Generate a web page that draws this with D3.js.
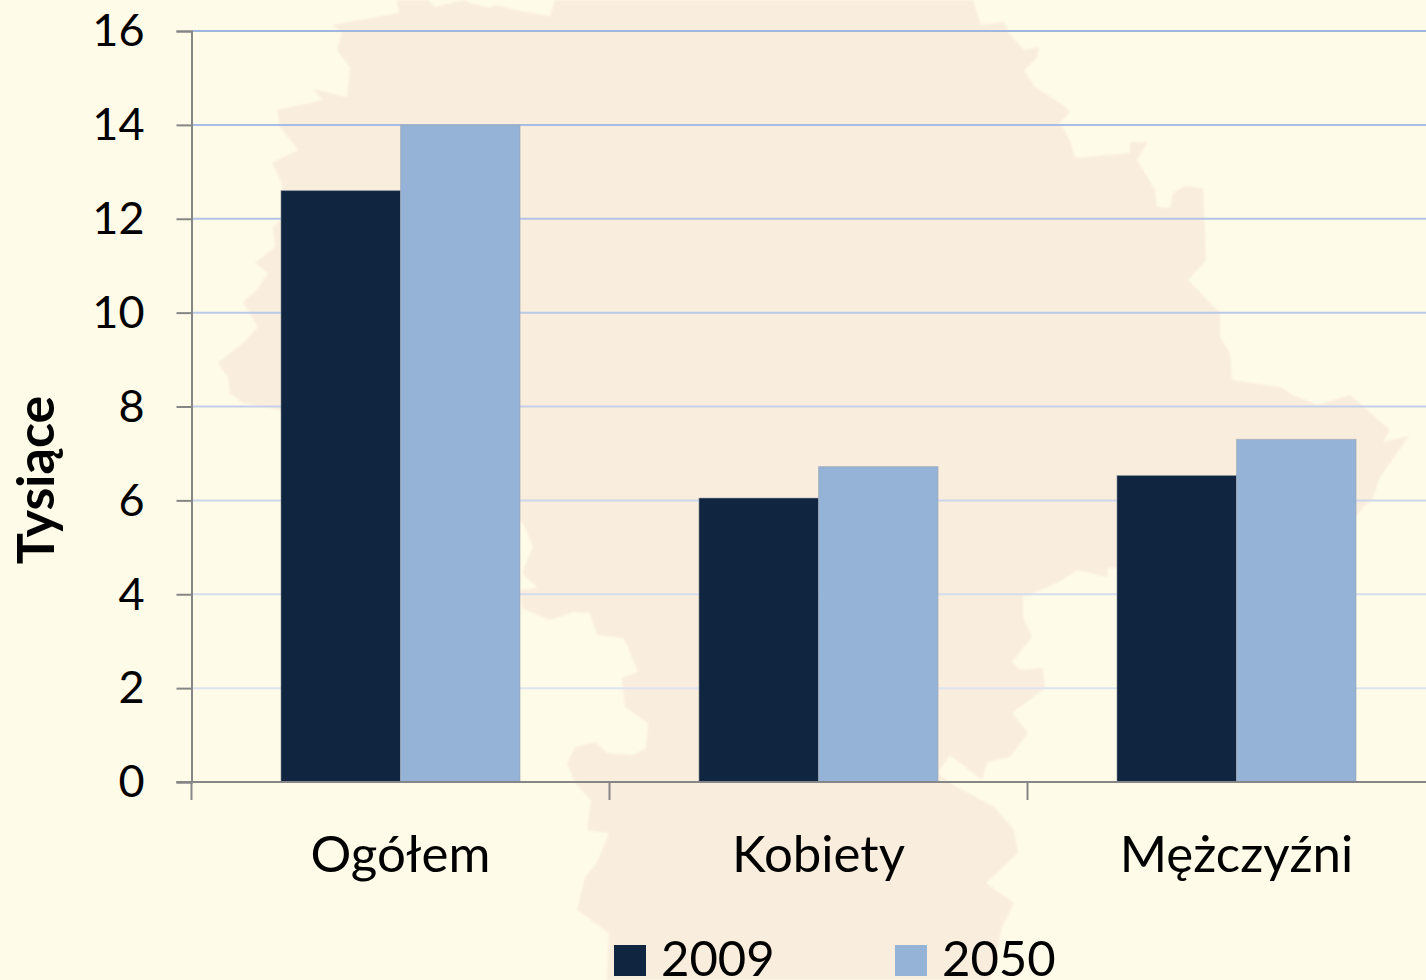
<!DOCTYPE html>
<html>
<head>
<meta charset="UTF-8">
<script src="https://d3js.org/d3.v7.min.js"></script>
<style>
  html, body { margin: 0; padding: 0; overflow: hidden; background: #fffbe9; }
  svg { display: block; }
  text { font-family: Lato, "Open Sans", sans-serif; fill: #000; }
</style>
</head>
<body>
<svg></svg>
<script>
var categories = ["Ogółem", "Kobiety", "Mężczyźni"];
var years = ["2009", "2050"];
var values2009 = [12.6, 6.05, 6.53];
var values2050 = [14.0, 6.72, 7.3];
var yTicks = [0, 2, 4, 6, 8, 10, 12, 14, 16];
var yTitle = "Tysiące";

// backdrop silhouette, traced in page pixels
var mapOutline = [[397,0],[428,0],[435,7],[465,0],[470,3],[490,8],[495,5],[525,12],[550,16],[555,0],
  [973,0],[981,25],[1004,22],[1009,33],[1024,50],[1039,47],[1037,58],[1024,70],[1035,87],[1063,105],
  [1070,112],[1060,123],[1070,140],[1075,158],[1130,153],[1130,142],[1148,142],[1137,160],[1155,190],
  [1157,207],[1170,208],[1173,193],[1185,186],[1203,188],[1206,260],[1188,280],[1220,313],[1220,337],
  [1230,353],[1232,380],[1280,387],[1293,395],[1317,405],[1350,395],[1390,430],[1383,442],[1409,436],
  [1380,477],[1372,500],[1363,507],[1340,540],[1117,568],[1107,568],[1108,577],[1077,570],[1057,583],
  [1023,597],[1023,617],[1032,637],[1012,662],[1020,670],[1043,668],[1045,688],[1012,713],[1028,733],
  [1010,757],[987,762],[982,780],[950,755],[938,773],[950,783],[994,807],[1014,830],[1018,853],[986,883],
  [1014,903],[1002,927],[990,980],[607,980],[609,933],[577,910],[585,877],[597,863],[609,833],[587,830],
  [591,800],[575,783],[567,763],[575,747],[595,742],[607,753],[634,755],[646,748],[648,723],[625,707],
  [622,678],[638,672],[628,647],[623,638],[597,635],[590,613],[573,612],[550,620],[522,608],[520,590],
  [538,588],[522,573],[533,547],[523,523],[400,450],[280,410],[243,403],[230,393],[228,377],[218,363],
  [243,343],[258,327],[243,302],[257,290],[268,273],[255,263],[275,247],[273,227],[281,220],[282,183],
  [272,163],[298,150],[280,127],[277,110],[323,100],[313,89],[347,97],[350,67],[337,50],[342,33],[333,25],
  [399,13]];

var width = 1426,
    height = 980,
    margin = {left: 191.5, top: 31, bottom: 782},
    bandStep = 418;

var svg = d3.select("svg")
    .attr("width", width)
    .attr("height", height);

var defs = svg.append("defs");
defs.append("filter").attr("id", "soft")
    .append("feGaussianBlur").attr("stdDeviation", 1.3);

// the plot runs off the right edge of the picture, like the original
var x0 = d3.scaleBand()
    .domain(categories)
    .range([margin.left, margin.left + bandStep * categories.length])
    .paddingInner(0.428)
    .paddingOuter(0.214);

var x1 = d3.scaleBand()
    .domain(years)
    .range([0, x0.bandwidth()]);

var y = d3.scaleLinear()
    .domain([0, 16])
    .range([margin.bottom, margin.top]);

var gridColor = d3.scaleLinear()
    .domain([0, 16])
    .range(["#e6eaf3", "#9fb6e1"]);

var barColor = d3.scaleOrdinal()
    .domain(years)
    .range(["#10253f", "#95b3d7"]);

svg.append("rect")
    .attr("width", width)
    .attr("height", height)
    .attr("fill", "#fffbe9");

svg.append("path")
    .datum(mapOutline)
    .attr("d", d3.line().curve(d3.curveLinearClosed))
    .attr("fill", "#f9eddd")
    .attr("filter", "url(#soft)");

// gridlines
svg.append("g").selectAll("line")
    .data(yTicks.filter(function(d) { return d > 0; }))
    .enter().append("line")
    .attr("x1", margin.left)
    .attr("x2", width)
    .attr("y1", function(d) { return y(d); })
    .attr("y2", function(d) { return y(d); })
    .attr("stroke", function(d) { return gridColor(d); })
    .attr("stroke-width", 2);

// bars
var rows = categories.map(function(c, i) {
    return {category: c, bars: [
        {year: years[0], value: values2009[i]},
        {year: years[1], value: values2050[i]}
    ]};
});

svg.append("g").selectAll("g")
    .data(rows)
    .enter().append("g")
    .attr("transform", function(d) { return "translate(" + x0(d.category) + ",0)"; })
    .selectAll("rect")
    .data(function(d) { return d.bars; })
    .enter().append("rect")
    .attr("x", function(d) { return x1(d.year); })
    .attr("y", function(d) { return y(d.value); })
    .attr("width", x1.bandwidth())
    .attr("height", function(d) { return y(0) - y(d.value); })
    .attr("fill", function(d) { return barColor(d.year); })
    .attr("stroke", "#9aa0a8")
    .attr("stroke-opacity", 0.5)
    .attr("stroke-width", 1);

// y axis
var yAxis = svg.append("g")
    .attr("transform", "translate(" + margin.left + ",0)")
    .call(d3.axisLeft(y).tickValues(yTicks).tickSize(15).tickPadding(32));
yAxis.select(".domain").attr("stroke", "#868686").attr("stroke-width", 2);
yAxis.selectAll(".tick line").attr("stroke", "#868686").attr("stroke-width", 2);
yAxis.selectAll(".tick text")
    .attr("font-size", 45)
    .style("font-family", "Lato")
    .attr("dy", "0.33em");

// x axis: ticks sit between the categories
var xEdges = d3.range(categories.length + 1).map(function(i) { return margin.left + i * bandStep; });
var xAxis = svg.append("g");
xAxis.append("line")
    .attr("x1", margin.left - 15)
    .attr("x2", width)
    .attr("y1", y(0))
    .attr("y2", y(0))
    .attr("stroke", "#868686")
    .attr("stroke-width", 2);
xAxis.selectAll(".edge")
    .data(xEdges)
    .enter().append("line")
    .attr("class", "edge")
    .attr("x1", function(d) { return d; })
    .attr("x2", function(d) { return d; })
    .attr("y1", y(0))
    .attr("y2", y(0) + 18)
    .attr("stroke", "#868686")
    .attr("stroke-width", 2);
xAxis.selectAll(".cat")
    .data(categories)
    .enter().append("text")
    .attr("class", "cat")
    .attr("x", function(d) { return x0(d) + x0.bandwidth() / 2; })
    .attr("y", 872)
    .attr("text-anchor", "middle")
    .attr("font-size", 51)
    .text(function(d) { return d; });

// axis title
svg.append("text")
    .attr("transform", "translate(54,480) rotate(-90)")
    .attr("text-anchor", "middle")
    .attr("font-size", 52)
    .attr("font-weight", 700)
    .text(yTitle);

// legend
var legendX = d3.scaleOrdinal().domain(years).range([614, 895]);
var legend = svg.append("g").selectAll("g")
    .data(years)
    .enter().append("g")
    .attr("transform", function(d) { return "translate(" + legendX(d) + ",0)"; });
legend.append("rect")
    .attr("y", 945)
    .attr("width", 32)
    .attr("height", 31)
    .attr("fill", function(d) { return barColor(d); });
legend.append("text")
    .attr("x", 47)
    .attr("y", 976)
    .attr("font-size", 49)
    .text(function(d) { return d; });
</script>
</body>
</html>
